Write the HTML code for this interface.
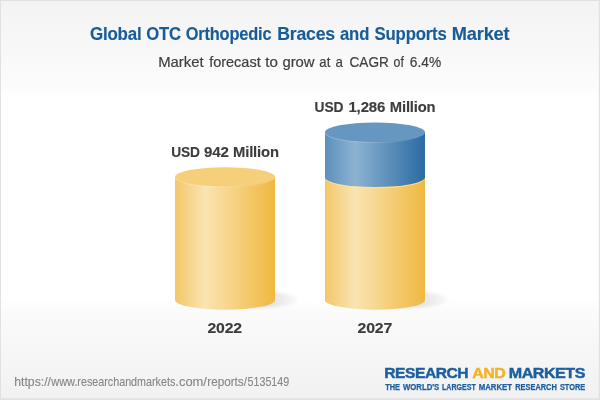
<!DOCTYPE html>
<html>
<head>
<meta charset="utf-8">
<title>Global OTC Orthopedic Braces and Supports Market</title>
<style>
html,body{margin:0;padding:0;background:#fff;}
body{width:600px;height:400px;overflow:hidden;font-family:"Liberation Sans",sans-serif;}
svg{display:block;}
text{font-family:"Liberation Sans",sans-serif;}
</style>
</head>
<body>
<svg width="600" height="400" viewBox="0 0 600 400">
  <defs>
    <linearGradient id="bg" x1="0" y1="0" x2="0" y2="1">
      <stop offset="0" stop-color="#f3f3f3"/>
      <stop offset="0.225" stop-color="#fcfcfc"/>
      <stop offset="0.24" stop-color="#ffffff"/>
      <stop offset="0.75" stop-color="#ffffff"/>
      <stop offset="0.775" stop-color="#fbfbfb"/>
      <stop offset="1" stop-color="#f1f1f1"/>
    </linearGradient>
    <linearGradient id="ySide" x1="0" y1="0" x2="1" y2="0">
      <stop offset="0" stop-color="#f3c768"/>
      <stop offset="0.30" stop-color="#fae4b2"/>
      <stop offset="1" stop-color="#f0b840"/>
    </linearGradient>
    <linearGradient id="bSide" x1="0" y1="0" x2="1" y2="0">
      <stop offset="0" stop-color="#5b90bc"/>
      <stop offset="0.30" stop-color="#8db2d1"/>
      <stop offset="1" stop-color="#2b6aa3"/>
    </linearGradient>
    <linearGradient id="sh1" gradientUnits="userSpaceOnUse" x1="268" y1="0" x2="298" y2="0">
      <stop offset="0" stop-color="#000" stop-opacity="0.115"/>
      <stop offset="1" stop-color="#000" stop-opacity="0.02"/>
    </linearGradient>
    <linearGradient id="sh2" gradientUnits="userSpaceOnUse" x1="418" y1="0" x2="448" y2="0">
      <stop offset="0" stop-color="#000" stop-opacity="0.115"/>
      <stop offset="1" stop-color="#000" stop-opacity="0.02"/>
    </linearGradient>
    <linearGradient id="rim" x1="0" y1="0" x2="1" y2="0">
      <stop offset="0" stop-color="#fff" stop-opacity="0.28"/>
      <stop offset="0.5" stop-color="#fff" stop-opacity="0.16"/>
      <stop offset="1" stop-color="#fff" stop-opacity="0.04"/>
    </linearGradient>
    <filter id="blur" x="-20%" y="-100%" width="140%" height="300%">
      <feGaussianBlur stdDeviation="1.8"/>
    </filter>
  </defs>
  <rect x="0" y="0" width="600" height="400" fill="url(#bg)"/>
  <path d="M0 0H600V400H0Z M1 1V398.3H598.8V1Z" fill="#e1e1e1" fill-rule="evenodd"/>

  <!-- shadows -->
  <ellipse cx="251" cy="299.5" rx="47" ry="8.5" fill="url(#sh1)" filter="url(#blur)"/>
  <ellipse cx="401" cy="299.5" rx="47" ry="8.5" fill="url(#sh2)" filter="url(#blur)"/>

  <!-- cylinder 1 -->
  <path d="M175 176.7 L175 300 A50 9.7 0 0 0 275 300 L275 176.7 Z" fill="url(#ySide)"/>
  <ellipse cx="225" cy="176.9" rx="50" ry="9.7" fill="#f5cf7a"/>
  <path d="M175.3 177.4 A49.7 9.7 0 0 0 274.7 177.4" fill="none" stroke="url(#rim)" stroke-width="0.9"/>

  <!-- cylinder 2 -->
  <path d="M325 176.7 L325 300 A50 9.7 0 0 0 425 300 L425 176.7 Z" fill="url(#ySide)"/>
  <path d="M325.6 177.9 A49.4 9.8 0 0 0 424.4 177.9" fill="none" stroke="#fbe2a8" stroke-opacity="0.7" stroke-width="1.2"/>
  <path d="M325 132 L325 177.2 A50 9.8 0 0 0 425 177.2 L425 132 Z" fill="url(#bSide)"/>
  <ellipse cx="375" cy="132.3" rx="50" ry="9.8" fill="#6697c0"/>
  <path d="M325.3 132.8 A49.7 9.8 0 0 0 424.7 132.8" fill="none" stroke="url(#rim)" stroke-width="0.9"/>

  <text y="39.7" font-size="17.8" font-weight="bold" letter-spacing="-0.178" stroke="#185c9a" stroke-width="0.15" fill="#185c9a"><tspan x="89.91" textLength="51.60" lengthAdjust="spacingAndGlyphs">Global</tspan> <tspan x="146.17" textLength="34.60" lengthAdjust="spacingAndGlyphs">OTC</tspan> <tspan x="185.67" textLength="85.82" lengthAdjust="spacingAndGlyphs">Orthopedic</tspan> <tspan x="277.13" textLength="57.79" lengthAdjust="spacingAndGlyphs">Braces</tspan> <tspan x="340.03" textLength="29.14" lengthAdjust="spacingAndGlyphs">and</tspan> <tspan x="374.53" textLength="72.13" lengthAdjust="spacingAndGlyphs">Supports</tspan> <tspan x="451.85" textLength="57.58" lengthAdjust="spacingAndGlyphs">Market</tspan></text>
  <text y="67.0" font-size="15.0" stroke="#404040" stroke-width="0.2" fill="#404040"><tspan x="158.13" textLength="45.59" lengthAdjust="spacingAndGlyphs">Market</tspan> <tspan x="209.13" textLength="51.60" lengthAdjust="spacingAndGlyphs">forecast</tspan> <tspan x="265.37" textLength="12.64" lengthAdjust="spacingAndGlyphs">to</tspan> <tspan x="282.41" textLength="32.18" lengthAdjust="spacingAndGlyphs">grow</tspan> <tspan x="319.36" textLength="10.95" lengthAdjust="spacingAndGlyphs">at</tspan> <tspan x="335.46" textLength="7.41" lengthAdjust="spacingAndGlyphs">a</tspan> <tspan x="349.53" textLength="39.30" lengthAdjust="spacingAndGlyphs">CAGR</tspan> <tspan x="393.59" textLength="10.32" lengthAdjust="spacingAndGlyphs">of</tspan> <tspan x="409.83" textLength="31.38" lengthAdjust="spacingAndGlyphs">6.4%</tspan></text>
  <text y="157.0" font-size="15.4" font-weight="bold" letter-spacing="-0.154" stroke="#3d3d3d" stroke-width="0.15" fill="#3d3d3d"><tspan x="171.22" textLength="28.56" lengthAdjust="spacingAndGlyphs">USD</tspan> <tspan x="204.01" textLength="24.74" lengthAdjust="spacingAndGlyphs">942</tspan> <tspan x="233.04" textLength="45.73" lengthAdjust="spacingAndGlyphs">Million</tspan></text>
  <text y="111.8" font-size="15.4" font-weight="bold" letter-spacing="-0.154" stroke="#3d3d3d" stroke-width="0.15" fill="#3d3d3d"><tspan x="314.62" textLength="28.66" lengthAdjust="spacingAndGlyphs">USD</tspan> <tspan x="348.45" textLength="36.73" lengthAdjust="spacingAndGlyphs">1,286</tspan> <tspan x="389.84" textLength="45.62" lengthAdjust="spacingAndGlyphs">Million</tspan></text>
  <text y="332.9" font-size="15.4" font-weight="bold" letter-spacing="-0.154" stroke="#3d3d3d" stroke-width="0.15" fill="#3d3d3d"><tspan x="207.49" textLength="34.51" lengthAdjust="spacingAndGlyphs">2022</tspan> <tspan x="357.49" textLength="34.65" lengthAdjust="spacingAndGlyphs">2027</tspan></text>
  <text y="385.5" font-size="12.4" stroke="#868686" stroke-width="0.12" fill="#868686"><tspan x="14.26" textLength="36.71" lengthAdjust="spacingAndGlyphs">https://</tspan><tspan x="51.25" textLength="26.24" lengthAdjust="spacingAndGlyphs">www.</tspan><tspan x="77.35" textLength="97.99" lengthAdjust="spacingAndGlyphs">researchandmarkets</tspan><tspan x="175.33" textLength="31.61" lengthAdjust="spacingAndGlyphs">.com/</tspan><tspan x="207.29" textLength="39.62" lengthAdjust="spacingAndGlyphs">reports/</tspan><tspan x="247.57" textLength="41.63" lengthAdjust="spacingAndGlyphs">5135149</tspan></text>
  <text y="377.5" font-size="15.4" font-weight="bold" letter-spacing="-0.462" stroke="#1c5fa0" stroke-width="0.45" fill="#1c5fa0"><tspan x="384.24" textLength="83.91" lengthAdjust="spacingAndGlyphs">RESEARCH</tspan> <tspan x="472.17" textLength="33.21" lengthAdjust="spacingAndGlyphs" fill="#f3b229" stroke="#f3b229">AND</tspan> <tspan x="508.82" textLength="76.08" lengthAdjust="spacingAndGlyphs">MARKETS</tspan></text>
  <text y="390" font-size="8.3" font-weight="bold" stroke="#1c5fa0" stroke-width="0.25" fill="#1c5fa0"><tspan x="385.20" textLength="14.80" lengthAdjust="spacingAndGlyphs">THE</tspan> <tspan x="403.02" textLength="36.20" lengthAdjust="spacingAndGlyphs">WORLD'S</tspan> <tspan x="441.98" textLength="33.74" lengthAdjust="spacingAndGlyphs">LARGEST</tspan> <tspan x="478.65" textLength="33.35" lengthAdjust="spacingAndGlyphs">MARKET</tspan> <tspan x="515.27" textLength="41.53" lengthAdjust="spacingAndGlyphs">RESEARCH</tspan> <tspan x="559.89" textLength="25.28" lengthAdjust="spacingAndGlyphs">STORE</tspan></text>
</svg>
</body>
</html>
